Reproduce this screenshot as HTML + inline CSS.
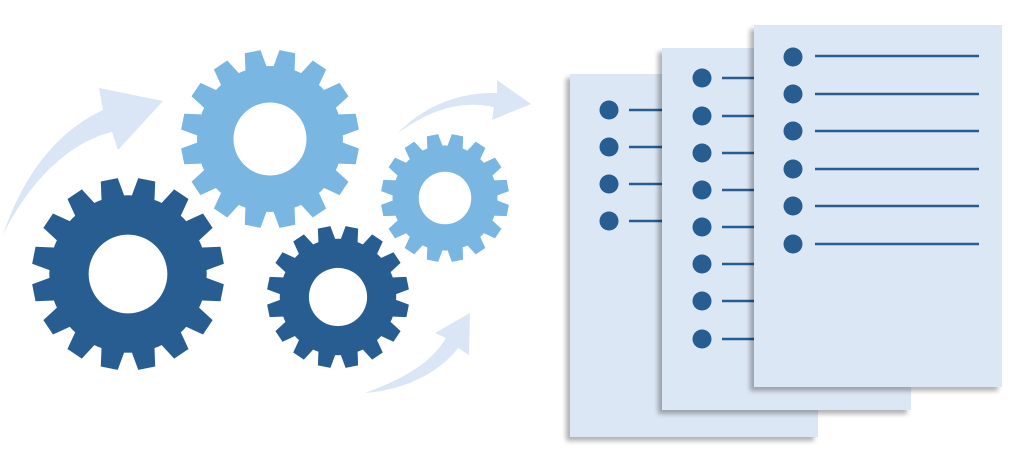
<!DOCTYPE html>
<html><head><meta charset="utf-8"><style>html,body{margin:0;padding:0;background:#fff;width:1024px;height:475px;overflow:hidden}</style></head>
<body>
<svg width="1024" height="475" viewBox="0 0 1024 475" xmlns="http://www.w3.org/2000/svg">
<defs>
<polygon id="t" points="-12.5,-78 12.5,-78 9,-100 -9,-100"/>
<g id="gear">
<circle r="82"/>
<use href="#t"/><use href="#t" transform="rotate(22.5)"/><use href="#t" transform="rotate(45)"/><use href="#t" transform="rotate(67.5)"/>
<use href="#t" transform="rotate(90)"/><use href="#t" transform="rotate(112.5)"/><use href="#t" transform="rotate(135)"/><use href="#t" transform="rotate(157.5)"/>
<use href="#t" transform="rotate(180)"/><use href="#t" transform="rotate(202.5)"/><use href="#t" transform="rotate(225)"/><use href="#t" transform="rotate(247.5)"/>
<use href="#t" transform="rotate(270)"/><use href="#t" transform="rotate(292.5)"/><use href="#t" transform="rotate(315)"/><use href="#t" transform="rotate(337.5)"/>
<circle r="41" fill="#fff"/>
</g>
<filter id="sh" x="-10%" y="-10%" width="120%" height="120%"><feDropShadow dx="-4" dy="4" stdDeviation="2.5" flood-color="#000" flood-opacity="0.3"/></filter>
</defs>
<g fill="#dae6f5">
<path d="M3,235 C25,170 60,130 103,110 L99,88 L163,101 L118,150 L112,132 C70,142 30,180 3,235 Z"/>
<path d="M398,133 C425,105 460,92 497,93 L497,80 L531,104 L492,120 L494,107 C460,100 430,110 398,133 Z"/>
<path d="M365,393 C400,380 430,365 446,338 L435,333 L470,313 L469,355 L458,348 C440,372 405,390 365,393 Z"/>
</g>
<use href="#gear" fill="#7ab6e2" transform="translate(270,139) scale(0.89) rotate(11.25)"/>
<use href="#gear" fill="#285d92" transform="translate(128,274) scale(0.96) rotate(11.25)"/>
<use href="#gear" fill="#7ab6e2" transform="translate(445,198) scale(0.64) rotate(11.25)"/>
<use href="#gear" fill="#285d92" transform="translate(338,297) scale(0.71) rotate(11.25)"/>
<g filter="url(#sh)">
<rect x="570" y="74" width="248" height="363" fill="#dce7f5"/>
</g>
<g fill="#285d92">
<circle cx="609" cy="110" r="9.5"/><circle cx="609" cy="147" r="9.5"/><circle cx="609" cy="184" r="9.5"/><circle cx="609" cy="221" r="9.5"/>
</g>
<g stroke="#285d92" stroke-width="2.5">
<line x1="629" y1="110" x2="680" y2="110"/><line x1="629" y1="147" x2="680" y2="147"/><line x1="629" y1="184" x2="680" y2="184"/><line x1="629" y1="221" x2="680" y2="221"/>
</g>
<g filter="url(#sh)">
<rect x="662" y="48" width="249" height="362" fill="#dce7f5"/>
</g>
<g fill="#285d92">
<circle cx="702" cy="78" r="9.5"/><circle cx="702" cy="116" r="9.5"/><circle cx="702" cy="153" r="9.5"/><circle cx="702" cy="190" r="9.5"/>
<circle cx="702" cy="227" r="9.5"/><circle cx="702" cy="264" r="9.5"/><circle cx="702" cy="301" r="9.5"/><circle cx="702" cy="339" r="9.5"/>
</g>
<g stroke="#285d92" stroke-width="2.5">
<line x1="722" y1="78" x2="770" y2="78"/><line x1="722" y1="116" x2="770" y2="116"/><line x1="722" y1="153" x2="770" y2="153"/><line x1="722" y1="190" x2="770" y2="190"/>
<line x1="722" y1="227" x2="770" y2="227"/><line x1="722" y1="264" x2="770" y2="264"/><line x1="722" y1="301" x2="770" y2="301"/><line x1="722" y1="339" x2="770" y2="339"/>
</g>
<g filter="url(#sh)">
<rect x="754" y="25" width="248" height="362" fill="#dce7f5"/>
</g>
<g fill="#285d92">
<circle cx="793" cy="57" r="9.5"/><circle cx="793" cy="94" r="9.5"/><circle cx="793" cy="131" r="9.5"/><circle cx="793" cy="169" r="9.5"/><circle cx="793" cy="206" r="9.5"/><circle cx="793" cy="244" r="9.5"/>
</g>
<g stroke="#285d92" stroke-width="2.5">
<line x1="815" y1="56" x2="979" y2="56"/><line x1="815" y1="94" x2="979" y2="94"/><line x1="815" y1="131" x2="979" y2="131"/><line x1="815" y1="169" x2="979" y2="169"/><line x1="815" y1="206" x2="979" y2="206"/><line x1="815" y1="244" x2="979" y2="244"/>
</g>
</svg>
</body></html>
